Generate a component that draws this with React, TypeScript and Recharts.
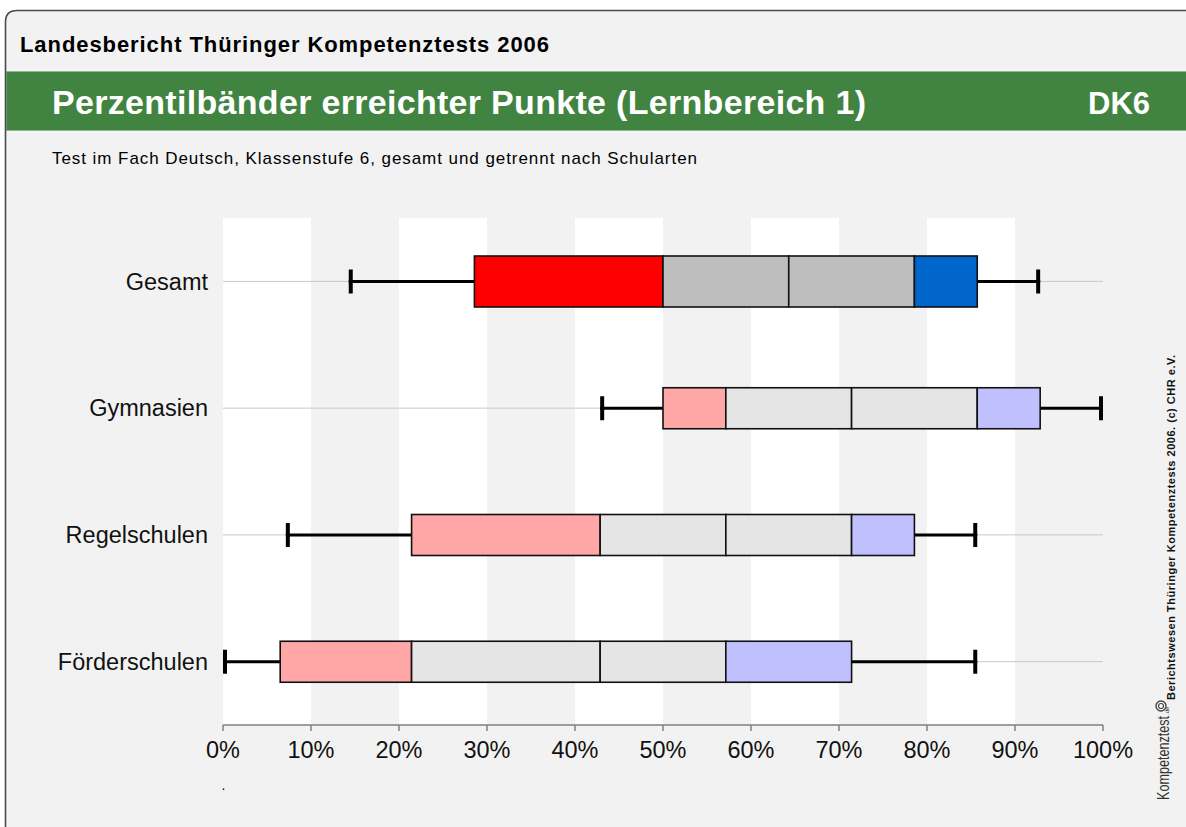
import React from 'react';
import { ComposedChart, Bar, XAxis, YAxis, CartesianGrid } from 'recharts';

// ---- data (percent of points) ----
const categories = ['Gesamt', 'Gymnasien', 'Regelschulen', 'Förderschulen'];
const whiskerLow = [14.29, 42.86, 7.14, 0];
const boxLow = [28.57, 50, 21.43, 6.5];
const lowerBandEnd = [50, 57.14, 42.86, 21.43];
const medianValues = [64.29, 71.43, 57.14, 42.86];
const upperBandStart = [78.57, 85.71, 71.43, 57.14];
const boxHigh = [85.71, 92.86, 78.57, 71.43];
const whiskerHigh = [92.86, 100, 85.71, 85.71];
const xTicks = [0, 10, 20, 30, 40, 50, 60, 70, 80, 90, 100];

const data = categories.map((name, i) => ({
  name,
  offset: whiskerLow[i],
  wLeft: boxLow[i] - whiskerLow[i],
  s1: lowerBandEnd[i] - boxLow[i],
  s2: medianValues[i] - lowerBandEnd[i],
  s3: upperBandStart[i] - medianValues[i],
  s4: boxHigh[i] - upperBandStart[i],
  wRight: whiskerHigh[i] - boxHigh[i],
}));

const strongColors = ['#ff0000', '#bebebe', '#bebebe', '#0066cc'];
const paleColors = ['#ffa6a6', '#e5e5e5', '#e5e5e5', '#c0c0ff'];

const AXIS_FONT = '"Liberation Sans", Arial, sans-serif';

const makeSegShape = (segIdx: number) => (props: any) => {
  const { x, y, width, height, payload } = props;
  if (width == null || width <= 0) return <g />;
  const strong = payload.name === 'Gesamt';
  const h = strong ? 51 : 41;
  const cy = y + height / 2;
  const fill = strong ? strongColors[segIdx] : paleColors[segIdx];
  return (
    <rect x={x} y={cy - h / 2} width={width} height={h} fill={fill} stroke="#111" strokeWidth={1.6} />
  );
};

const makeWhiskerShape = (side: 'left' | 'right') => (props: any) => {
  const { x, y, width, height } = props;
  if (width == null || width <= 0) {
    return <g />;
  }
  const cy = y + height / 2;
  const capX = side === 'left' ? x + 2 : x + width - 2;
  return (
    <g>
      <line x1={x} x2={x + width} y1={cy} y2={cy} stroke="#000" strokeWidth={3} />
      <line x1={capX} x2={capX} y1={cy - 12} y2={cy + 12} stroke="#000" strokeWidth={4} />
    </g>
  );
};

const EmptyShape = () => <g />;

export default function App() {
  return (
    <div style={{ position: 'absolute', left: 0, top: 0, width: 1186, height: 827, overflow: 'hidden', background: '#ffffff' }}>
      <svg width={1186} height={827} style={{ position: 'absolute', left: 0, top: 0 }}>
        <path d="M5.5,900 L5.5,22 Q5.5,10.5 17,10.5 L1300,10.5 L1300,900 Z" fill="#f2f2f2" stroke="#4a4a4a" strokeWidth={1.6} />
        <rect x={6.3} y={71} width={1190} height={60} fill="#418441" />
        <line x1={6.3} x2={1186} y1={71.5} y2={71.5} stroke="#8fba8f" strokeWidth={1} />
        <line x1={6.3} x2={1186} y1={130.5} y2={130.5} stroke="#8fba8f" strokeWidth={1} />
        <text x={20} y={52} fontFamily={AXIS_FONT} fontWeight="bold" fontSize={22} fill="#000" textLength={529}>
          Landesbericht Thüringer Kompetenztests 2006
        </text>
        <text x={52} y={114} fontFamily={AXIS_FONT} fontWeight="bold" fontSize={34} fill="#ffffff" textLength={814}>
          Perzentilbänder erreichter Punkte (Lernbereich 1)
        </text>
        <text x={1088} y={114} fontFamily={AXIS_FONT} fontWeight="bold" fontSize={31} fill="#ffffff">
          DK6
        </text>
        <text x={52} y={164} fontFamily={AXIS_FONT} fontSize={17} fill="#000" textLength={645}>
          Test im Fach Deutsch, Klassenstufe 6, gesamt und getrennt nach Schularten
        </text>
        <text x={221.5} y={790} fontFamily={AXIS_FONT} fontSize={14} fill="#000">.</text>
        <text transform="translate(1175,700) rotate(-90)" fontFamily={AXIS_FONT} fontWeight="bold" fontSize={11} fill="#111" textLength={345}>
          Berichtswesen Thüringer Kompetenztests 2006. (c) CHR e.V.
        </text>
        <text transform="translate(1169,800) rotate(-90)" fontFamily={AXIS_FONT} fontSize={17} fill="#333" textLength={84} lengthAdjust="spacingAndGlyphs">
          Kompetenztest
        </text>
        <text transform="translate(1169,715) rotate(-90)" fontFamily={AXIS_FONT} fontSize={6} fill="#333">.de</text>
        <circle cx={1161} cy={706} r={5} fill="#ffffff" stroke="#444" strokeWidth={1.4} />
        <circle cx={1161} cy={706} r={2.5} fill="none" stroke="#444" strokeWidth={1.2} />
      </svg>
      <div style={{ position: 'absolute', left: 0, top: 0 }}>
        <ComposedChart
          width={1186}
          height={827}
          data={data}
          layout="vertical"
          margin={{ top: 218, right: 83, bottom: 72, left: 23 }}
          barCategoryGap={0}
        >
          <CartesianGrid horizontal={false} vertical={true} stroke="none" verticalFill={['#ffffff', 'transparent']} fillOpacity={1} />
          <CartesianGrid horizontal={true} vertical={false} syncWithTicks={true} stroke="#c8c8c8" strokeWidth={1} />
          <XAxis
            type="number"
            domain={[0, 100]}
            ticks={xTicks}
            interval={0}
            tickFormatter={(v: number) => `${v}%`}
            axisLine={{ stroke: '#808080', strokeWidth: 1.5 }}
            tickLine={{ stroke: '#808080', strokeWidth: 1.5 }}
            tickSize={6}
            tickMargin={10}
            tick={{ fontSize: 23.5, fill: '#111', fontFamily: AXIS_FONT }}
            height={30}
          />
          <YAxis
            type="category"
            dataKey="name"
            width={200}
            axisLine={false}
            tickLine={false}
            tickSize={0}
            tickMargin={15}
            tick={{ fontSize: 23.5, fill: '#111', fontFamily: AXIS_FONT }}
          />
          <Bar dataKey="offset" stackId="a" barSize={41} fill="transparent" shape={EmptyShape} isAnimationActive={false} />
          <Bar dataKey="wLeft" stackId="a" barSize={41} shape={makeWhiskerShape('left')} isAnimationActive={false} />
          <Bar dataKey="s1" stackId="a" barSize={41} shape={makeSegShape(0)} isAnimationActive={false} />
          <Bar dataKey="s2" stackId="a" barSize={41} shape={makeSegShape(1)} isAnimationActive={false} />
          <Bar dataKey="s3" stackId="a" barSize={41} shape={makeSegShape(2)} isAnimationActive={false} />
          <Bar dataKey="s4" stackId="a" barSize={41} shape={makeSegShape(3)} isAnimationActive={false} />
          <Bar dataKey="wRight" stackId="a" barSize={41} shape={makeWhiskerShape('right')} isAnimationActive={false} />
        </ComposedChart>
      </div>
    </div>
  );
}
